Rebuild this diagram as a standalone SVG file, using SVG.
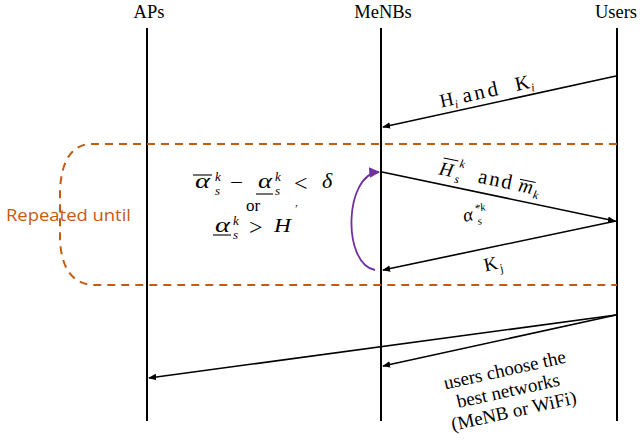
<svg xmlns="http://www.w3.org/2000/svg" width="642" height="445" viewBox="0 0 642 445">
<style>
.life{stroke:#000;stroke-width:2;fill:none}
.msg{stroke:#000;stroke-width:1.6;fill:none;marker-end:url(#ah)}
.hdr{font-family:"Liberation Serif",serif;font-size:18.5px;fill:#000;text-anchor:middle}
.mt{font-family:"Liberation Serif",serif;fill:#000}
.it{font-style:italic}
.bar{stroke:#000;stroke-width:1.1}
.lbl{font-family:"Liberation Serif",serif;font-size:19px;fill:#000;text-anchor:middle}
</style>
<defs>
<marker id="ah" viewBox="0 0 10 10" refX="9" refY="5" markerWidth="5" markerHeight="5" orient="auto" markerUnits="strokeWidth">
<path d="M0,1 L10,5 L0,9 z" fill="#000"/>
</marker>
<marker id="ahp" viewBox="0 0 10 10" refX="9" refY="5" markerWidth="6" markerHeight="6" orient="auto" markerUnits="strokeWidth">
<path d="M0,0 L10,5 L0,10 z" fill="#7030A0"/>
</marker>
</defs>
<rect width="642" height="445" fill="#fff"/>

<g id="APs">
<text class="hdr" x="149" y="18">APs</text>
<line class="life" x1="147" y1="28" x2="147" y2="421"/>
</g>
<g id="MeNBs">
<text class="hdr" x="383" y="18">MeNBs</text>
<line class="life" x1="381" y1="28" x2="381" y2="421"/>
</g>
<g id="Users">
<text class="hdr" x="616" y="18">Users</text>
<line class="life" x1="617" y1="28" x2="617" y2="421"/>
</g>

<g id="loop">
<path d="M617 144 H88 Q62 148 60 190 L60 240 Q62 282 92 285 H617" fill="none" stroke="#C55A11" stroke-width="2" stroke-dasharray="8,6"/>
<text x="6" y="221" style="font-family:'Open Sans','Noto Sans',sans-serif;font-size:17px" textLength="125" lengthAdjust="spacingAndGlyphs" fill="#C55A11">Repeated until</text>
</g>

<g id="condition">
<text class="mt it" x="195" y="188" font-size="21" textLength="15" lengthAdjust="spacingAndGlyphs">α</text>
<line class="bar" x1="193" y1="175" x2="212" y2="175"/>
<text class="mt it" x="215" y="181" font-size="13">k</text>
<text class="mt it" x="215" y="195" font-size="13">s</text>
<text class="mt" x="230" y="189" font-size="20" textLength="13" lengthAdjust="spacingAndGlyphs">−</text>
<text class="mt it" x="258" y="188" font-size="21" textLength="14" lengthAdjust="spacingAndGlyphs">α</text>
<line class="bar" x1="256" y1="194" x2="273" y2="194"/>
<text class="mt it" x="275" y="181" font-size="13">k</text>
<text class="mt it" x="275" y="195" font-size="13">s</text>
<text class="mt" x="294" y="191" font-size="24">&lt;</text>
<text class="mt" x="295" y="206" font-size="11">,</text>
<text class="mt it" x="322" y="188" font-size="22">δ</text>
<text class="mt" x="246" y="211" font-size="17">or</text>
<text class="mt it" x="215" y="232" font-size="21" textLength="15" lengthAdjust="spacingAndGlyphs">α</text>
<line class="bar" x1="213" y1="235" x2="231" y2="235"/>
<text class="mt it" x="233" y="225" font-size="13">k</text>
<text class="mt it" x="233" y="239" font-size="13">s</text>
<text class="mt" x="249" y="235" font-size="24">&gt;</text>
<text class="mt it" x="274" y="232" font-size="19" textLength="17" lengthAdjust="spacingAndGlyphs">H</text>
</g>

<g id="connectors">
<line class="msg" x1="616" y1="76" x2="383" y2="127"/>
<line class="msg" x1="382" y1="172" x2="615" y2="221"/>
<line class="msg" x1="616" y1="221" x2="383" y2="270"/>
<line class="msg" x1="616" y1="315" x2="149" y2="378"/>
<line class="msg" x1="616" y1="315" x2="383" y2="366"/>
<path d="M375 270 C342 264 344 174 379 172" fill="none" stroke="#7030A0" stroke-width="1.8" marker-end="url(#ahp)"/>
</g>

<g id="labels">
<g transform="translate(494,96) rotate(-12.4)">
<text class="mt" x="-54" y="0" font-size="19">H</text>
<text class="mt it" x="-40" y="4" font-size="12">i</text>
<text class="mt" x="-31" y="0" font-size="21" textLength="36" lengthAdjust="spacing">and</text>
<text class="mt" x="23" y="0" font-size="20">K</text>
<text class="mt it" x="38" y="4" font-size="12">i</text>
</g>
<g transform="translate(494,186) rotate(12)">
<text class="mt it" x="-57" y="0" font-size="19">H</text>
<line class="bar" x1="-55" y1="-17" x2="-40" y2="-17"/>
<text class="mt it" x="-38" y="-11" font-size="12">k</text>
<text class="mt it" x="-40" y="5" font-size="12">s</text>
<text class="mt" x="-17" y="0" font-size="21" textLength="34" lengthAdjust="spacing">and</text>
<text class="mt it" x="24" y="0" font-size="20">m</text>
<line class="bar" x1="24" y1="-12" x2="40" y2="-12"/>
<text class="mt it" x="40" y="4" font-size="12">k</text>
</g>
<g transform="translate(478,219) rotate(-12)">
<text class="mt it" x="-14" y="0" font-size="19">α</text>
<text class="mt it" x="-1" y="-7" font-size="11">*k</text>
<text class="mt it" x="-1" y="6" font-size="11">s</text>
</g>
<g transform="translate(497,269) rotate(-12)">
<text class="mt" x="-12" y="0" font-size="19">K</text>
<text class="mt" x="3" y="4" font-size="12">j</text>
</g>
<g transform="translate(506,376) rotate(-12.5)">
<text class="lbl" x="0" y="0">users choose the</text>
<text class="lbl" x="-1" y="21">best networks</text>
<text class="lbl" x="0" y="42">(MeNB or WiFi)</text>
</g>
</g>
</svg>
